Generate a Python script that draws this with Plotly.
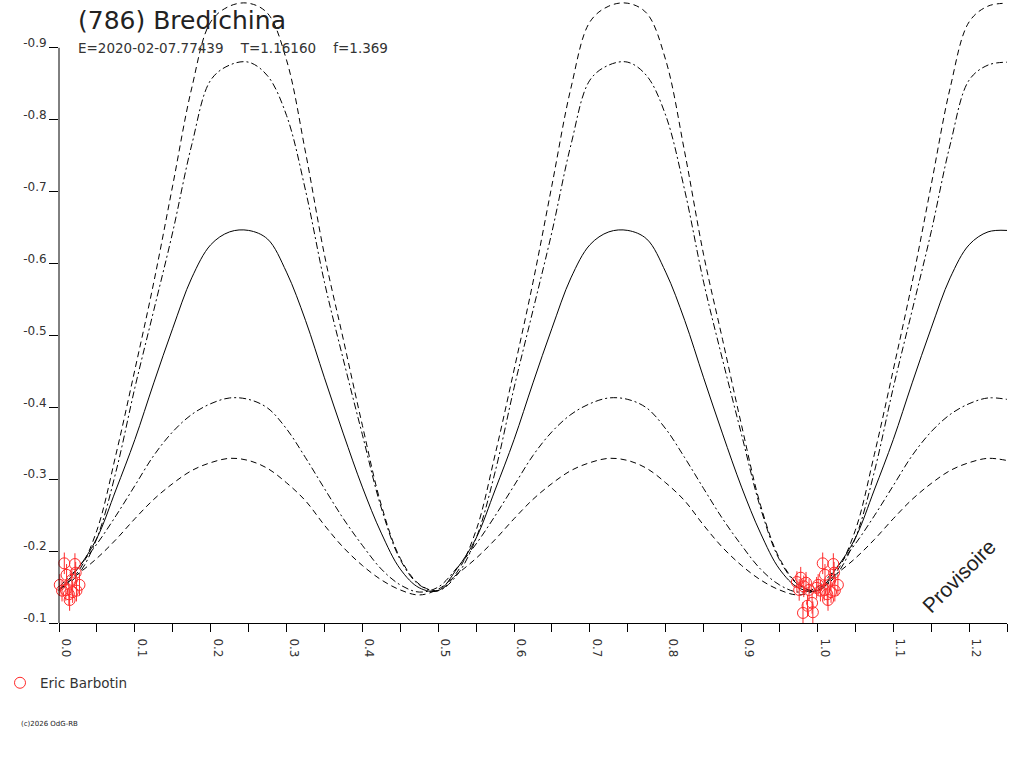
import plotly.graph_objects as go

# phase grid of the model curves (read at 0.025 steps)
phase = [0.000, 0.025, 0.050, 0.075, 0.100, 0.125, 0.150, 0.175, 0.200, 0.225,
         0.250, 0.275, 0.300, 0.325, 0.350, 0.375, 0.400, 0.425, 0.450, 0.475,
         0.500, 0.525, 0.550, 0.575, 0.600, 0.625, 0.650, 0.675, 0.700, 0.725,
         0.750, 0.775, 0.800, 0.825, 0.850, 0.875, 0.900, 0.925, 0.950, 0.975,
         1.000, 1.025, 1.050, 1.075, 1.100, 1.125, 1.150, 1.175, 1.200, 1.225,
         1.250]

# highest amplitude, dashed
mag_dash_big = [-0.146, -0.171, -0.229, -0.334, -0.452, -0.574, -0.709, -0.844, -0.936, -0.958,
                -0.962, -0.948, -0.883, -0.755, -0.612, -0.494, -0.375, -0.264, -0.190, -0.154,
                -0.145, -0.171, -0.229, -0.334, -0.452, -0.574, -0.709, -0.844, -0.936, -0.958,
                -0.962, -0.948, -0.883, -0.755, -0.612, -0.494, -0.375, -0.264, -0.190, -0.154,
                -0.145, -0.171, -0.229, -0.334, -0.452, -0.574, -0.709, -0.844, -0.936, -0.958,
                -0.962]
# second, dash-dot
mag_dashdot_big = [-0.146, -0.167, -0.218, -0.310, -0.427, -0.535, -0.644, -0.765, -0.855, -0.876,
                   -0.880, -0.861, -0.806, -0.702, -0.574, -0.466, -0.362, -0.260, -0.188, -0.153,
                   -0.145, -0.167, -0.218, -0.310, -0.427, -0.535, -0.644, -0.765, -0.855, -0.876,
                   -0.880, -0.861, -0.806, -0.702, -0.574, -0.466, -0.362, -0.260, -0.188, -0.153,
                   -0.145, -0.167, -0.218, -0.310, -0.427, -0.535, -0.644, -0.765, -0.855, -0.876,
                   -0.880]
# best fit, solid
mag_solid = [-0.146, -0.176, -0.218, -0.285, -0.355, -0.434, -0.510, -0.580, -0.626, -0.644,
             -0.646, -0.634, -0.588, -0.521, -0.441, -0.363, -0.289, -0.225, -0.175, -0.149,
             -0.145, -0.176, -0.218, -0.285, -0.355, -0.434, -0.510, -0.580, -0.626, -0.644,
             -0.646, -0.634, -0.588, -0.521, -0.441, -0.363, -0.289, -0.225, -0.175, -0.149,
             -0.145, -0.176, -0.218, -0.285, -0.355, -0.434, -0.510, -0.580, -0.626, -0.644,
             -0.646]
# smaller, dash-dot
mag_dashdot_small = [-0.150, -0.177, -0.210, -0.249, -0.291, -0.333, -0.366, -0.390, -0.405, -0.413,
                     -0.411, -0.399, -0.370, -0.330, -0.287, -0.245, -0.208, -0.175, -0.153, -0.143,
                     -0.150, -0.177, -0.210, -0.249, -0.291, -0.333, -0.366, -0.390, -0.405, -0.413,
                     -0.411, -0.399, -0.370, -0.330, -0.287, -0.245, -0.208, -0.175, -0.153, -0.143,
                     -0.150, -0.177, -0.210, -0.249, -0.291, -0.333, -0.366, -0.390, -0.405, -0.413,
                     -0.411]
# smallest, dashed
mag_dash_small = [-0.147, -0.168, -0.190, -0.216, -0.245, -0.272, -0.294, -0.312, -0.323, -0.329,
                  -0.326, -0.315, -0.295, -0.270, -0.236, -0.205, -0.180, -0.160, -0.146, -0.139,
                  -0.147, -0.168, -0.190, -0.216, -0.245, -0.272, -0.294, -0.312, -0.323, -0.329,
                  -0.326, -0.315, -0.295, -0.270, -0.236, -0.205, -0.180, -0.160, -0.146, -0.139,
                  -0.147, -0.168, -0.190, -0.216, -0.245, -0.272, -0.294, -0.312, -0.323, -0.329,
                  -0.326]

# measurements (Eric Barbotin), folded phase in [0, 1)
obs_phase = [0.973, 0.976, 0.978, 0.981, 0.982, 0.985, 0.987, 0.989, 0.993, 0.994, 0.999,
             0.001, 0.004, 0.007, 0.009, 0.010, 0.013, 0.014, 0.017, 0.018, 0.021, 0.022,
             0.023, 0.027]
obs_mag = [-0.157, -0.146, -0.163, -0.114, -0.151, -0.156, -0.124, -0.146, -0.128, -0.115, -0.149,
           -0.153, -0.145, -0.183, -0.146, -0.167, -0.140, -0.132, -0.160, -0.143, -0.182, -0.170,
           -0.145, -0.153]
obs_err = 0.015

y_ticks = [-0.9, -0.8, -0.7, -0.6, -0.5, -0.4, -0.3, -0.2, -0.1]
x_ticks = [0.0, 0.1, 0.2, 0.3, 0.4, 0.5, 0.6, 0.7, 0.8, 0.9, 1.0, 1.1, 1.2]

# plot area in pixels
L, R, T, B = 59, 1007, 0, 623
W, H = 1024, 768


def px(x):
    return (x - L) / (R - L)


def py(y):
    return (B - y) / (B - T)


# show the points a second time one cycle later, as the original does
xs = obs_phase + [p + 1 for p in obs_phase if p < 0.25]
ys = obs_mag + [m for p, m in zip(obs_phase, obs_mag) if p < 0.25]

fig = go.Figure()
curves = [
    (mag_dash_big, "6px,4px"),
    (mag_dashdot_big, "7px,3px,2px,3px"),
    (mag_solid, "solid"),
    (mag_dashdot_small, "7px,3px,2px,3px"),
    (mag_dash_small, "6px,4px"),
]
for mags, dash in curves:
    fig.add_trace(go.Scatter(x=phase, y=mags, mode="lines", showlegend=False,
                             line=dict(color="black", width=1, dash=dash, shape="spline"),
                             hoverinfo="skip"))

fig.add_trace(go.Scatter(x=xs, y=ys, mode="markers", name="Eric Barbotin",
                         marker=dict(symbol="circle-open", size=11, color="#ff2a2a",
                                     line=dict(width=1, color="#ff2a2a")),
                         error_y=dict(type="constant", value=obs_err, color="#ff2a2a",
                                      thickness=1, width=0),
                         cliponaxis=False))

fig.update_layout(
    width=W, height=768,
    margin=dict(l=L, r=W - R, t=T, b=H - B),
    plot_bgcolor="white", paper_bgcolor="white",
    font=dict(family="DejaVu Sans", color="#222"),
    xaxis=dict(range=[0, 1.25], tickvals=x_ticks, ticktext=[f"{v:.1f}" for v in x_ticks],
               tickangle=90, ticks="outside", ticklen=8, tickcolor="black",
               showline=True, linecolor="black", linewidth=1, showgrid=False, zeroline=False,
               tickfont=dict(size=12, color="#333"), ticklabelshift=7, ticklabelstandoff=4,
               minor=dict(dtick=0.05, tick0=0, ticks="outside", ticklen=8, tickcolor="black")),
    yaxis=dict(range=[-0.1, -0.9665], tickvals=y_ticks, ticktext=[f"{v:.1f}" for v in y_ticks],
               ticks="outside", ticklen=9, tickcolor="black", showline=False,
               showgrid=False, zeroline=False, tickfont=dict(size=12, color="#333"),
               ticklabelshift=5),
    showlegend=True,
    legend=dict(x=px(0), y=py(683), xanchor="left", yanchor="middle",
                font=dict(size=13.5, color="#333"), bgcolor="rgba(0,0,0,0)"),
    shapes=[dict(type="line", xref="paper", yref="y", x0=0, x1=0, y0=-0.1, y1=-0.9,
                 line=dict(color="black", width=1))],
    annotations=[
        dict(text="(786) Bredichina", xref="paper", yref="paper", x=px(76), y=py(21),
             xanchor="left", yanchor="middle", showarrow=False,
             font=dict(size=25, color="#222")),
        dict(text="E=2020-02-07.77439    T=1.16160    f=1.369", xref="paper", yref="paper",
             x=px(76), y=py(48), xanchor="left", yanchor="middle", showarrow=False,
             font=dict(size=13.5, color="#333")),
        dict(text="Provisoire", xref="paper", yref="paper", x=px(958), y=py(576),
             xanchor="center", yanchor="middle", showarrow=False, textangle=-45,
             font=dict(family="Liberation Sans", size=21, color="#222")),
        dict(text="(c)2026 OdG-RB", xref="paper", yref="paper", x=px(19), y=py(724),
             xanchor="left", yanchor="middle", showarrow=False,
             font=dict(size=7, color="#222")),
    ],
)

fig.write_html("out.html", config={"displayModeBar": False},
               post_script="document.body.style.margin='0';")
